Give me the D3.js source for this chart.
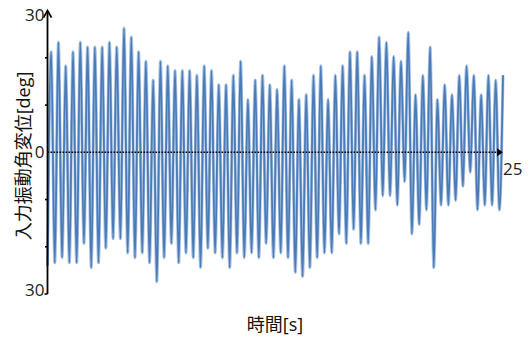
<!DOCTYPE html>
<html><head><meta charset="utf-8">
<script src="https://cdn.jsdelivr.net/npm/d3@7"></script>
<style>
html,body{margin:0;padding:0;background:#fff;}
svg{display:block;}
</style></head>
<body>
<svg id="chart" width="530" height="341"></svg>
<script>
// Data
const halfPeriod = 0.2;   // s between successive extremes
const timeDomain = [0, 25];
const valueDomain = [-30, 30];
const yTickValues = [-20, -10, 10, 20];
const yTickLabels = [{v: 30, text: "30"}, {v: 0, text: "0"}, {v: -30, text: "30"}];
const xEndLabel = "25";
const xTitle = "時間[s]";
const yTitle = "入力振動角変位[deg]";

// peak (positive) values, 63 cycles, peak k at t = 0.2 + 0.4k
const peakValues = [
  21.3, 23.3, 18.3, 21.3, 23.3, 22.3, 22.3, 22.3, 23.3, 22.3,
  26.3, 24.4, 21.3, 19.3, 15.3, 19.3, 18.3, 17.3, 17.3, 17.3,
  16.3, 18.3, 17.3, 14.3, 14.3, 16.3, 19.3, 11.2, 15.3, 16.3,
  14.3, 13.3, 18.3, 15.3, 11.2, 12.2, 16.3, 18.3, 11.2, 16.3,
  18.3, 21.3, 21.3, 16.3, 20.3, 24.4, 23.3, 20.3, 19.3, 25.4,
  12.2, 16.3, 22.3, 11.2, 14.3, 12.2, 16.3, 18.3, 16.3, 12.2,
  16.3, 15.3, 16.3
];
// trough (negative) values, trough k at t = 0.4k
const troughValues = [
  -24.0, -23.4, -22.3, -23.4, -23.4, -19.3, -24.4, -23.4, -20.3, -18.3,
  -18.3, -21.3, -22.3, -21.3, -23.4, -27.4, -22.3, -19.3, -23.4, -21.3,
  -22.3, -24.4, -20.3, -21.3, -22.3, -24.4, -21.3, -22.3, -21.3, -22.3,
  -19.3, -22.3, -21.3, -22.3, -25.4, -26.3, -24.4, -22.3, -21.3, -21.3,
  -17.3, -19.3, -16.3, -19.3, -19.3, -12.2, -9.2, -9.2, -11.2, -6.2,
  -17.3, -15.3, -12.2, -24.4, -11.2, -11.2, -10.2, -7.2, -4.2, -12.2,
  -11.2, -11.2, -12.2
];

const pts = [];
troughValues.forEach((tv, i) => {
  pts.push({t: 2 * i * halfPeriod, v: tv});
  if (i < peakValues.length) pts.push({t: (2 * i + 1) * halfPeriod, v: peakValues[i]});
});

const svg = d3.select("#chart");
const x = d3.scaleLinear().domain(timeDomain).range([47.5, 503]);
const y = d3.scaleLinear().domain(valueDomain).range([294, 10.6]);

const font = "'Open Sans','Noto Sans CJK JP',sans-serif";

// data line (soft halo + core stroke)
const line = d3.line().x(d => x(d.t)).y(d => y(d.v)).curve(d3.curveMonotoneX);
svg.append("path").datum(pts)
  .attr("d", line)
  .attr("fill", "none")
  .attr("stroke", "#a8c1e2")
  .attr("stroke-width", 3)
  .attr("stroke-linejoin", "round");
svg.append("path").datum(pts)
  .attr("d", line)
  .attr("fill", "none")
  .attr("stroke", "#4a7bb7")
  .attr("stroke-width", 1.8)
  .attr("stroke-linejoin", "round");

// x axis (dotted) with arrow
const x0 = x(0), y0 = y(0);
svg.append("line")
  .attr("x1", x0).attr("x2", x(timeDomain[1]) - 4)
  .attr("y1", y0).attr("y2", y0)
  .attr("stroke", "#000").attr("stroke-width", 1.6)
  .attr("stroke-dasharray", "1.6,1.4");
const xe = x(timeDomain[1]);
svg.append("path")
  .attr("d", `M${xe - 6},${y0 - 4} L${xe},${y0} L${xe - 6},${y0 + 4} Z`)
  .attr("fill", "#000");

// y axis with arrow
svg.append("line")
  .attr("x1", x0).attr("x2", x0)
  .attr("y1", y(valueDomain[0])).attr("y2", y(valueDomain[1]) + 0.5)
  .attr("stroke", "#000").attr("stroke-width", 1.8);
svg.append("path")
  .attr("d", `M${x0 - 4},${y(valueDomain[1]) + 7} L${x0},${y(valueDomain[1])} L${x0 + 4},${y(valueDomain[1]) + 7}`)
  .attr("fill", "none").attr("stroke", "#000").attr("stroke-width", 1.8);
svg.append("line")
  .attr("x1", x0 - 3).attr("x2", x0)
  .attr("y1", y(valueDomain[0])).attr("y2", y(valueDomain[0]))
  .attr("stroke", "#000").attr("stroke-width", 1.6);
svg.selectAll(".ytick").data(yTickValues).enter().append("line")
  .attr("x1", x0 - 2.5).attr("x2", x0)
  .attr("y1", d => y(d)).attr("y2", d => y(d))
  .attr("stroke", "#000").attr("stroke-width", 1.6);

// tick labels
svg.selectAll(".ylab").data(yTickLabels).enter().append("text")
  .attr("x", x0 - 3)
  .attr("y", d => y(d.v) + (d.v === 30 ? 4 : (d.v === -30 ? -4 : 0)))
  .attr("dy", "0.35em")
  .attr("text-anchor", "end")
  .attr("font-family", font).attr("font-size", 17).attr("fill", "#222")
  .text(d => d.text);
svg.append("text")
  .attr("x", xe).attr("y", y0 + 17)
  .attr("dy", "0.35em")
  .attr("font-family", font).attr("font-size", 17).attr("fill", "#222")
  .text(xEndLabel);

// titles
svg.append("text")
  .attr("x", 275).attr("y", 325).attr("dy", "0.35em")
  .attr("text-anchor", "middle")
  .attr("font-family", font).attr("font-size", 18).attr("fill", "#111")
  .text(xTitle);
svg.append("text")
  .attr("transform", "translate(24,156) rotate(-90)")
  .attr("dy", "0.35em")
  .attr("text-anchor", "middle")
  .attr("font-family", font).attr("font-size", 18).attr("fill", "#111")
  .text(yTitle);
</script>
</body></html>
